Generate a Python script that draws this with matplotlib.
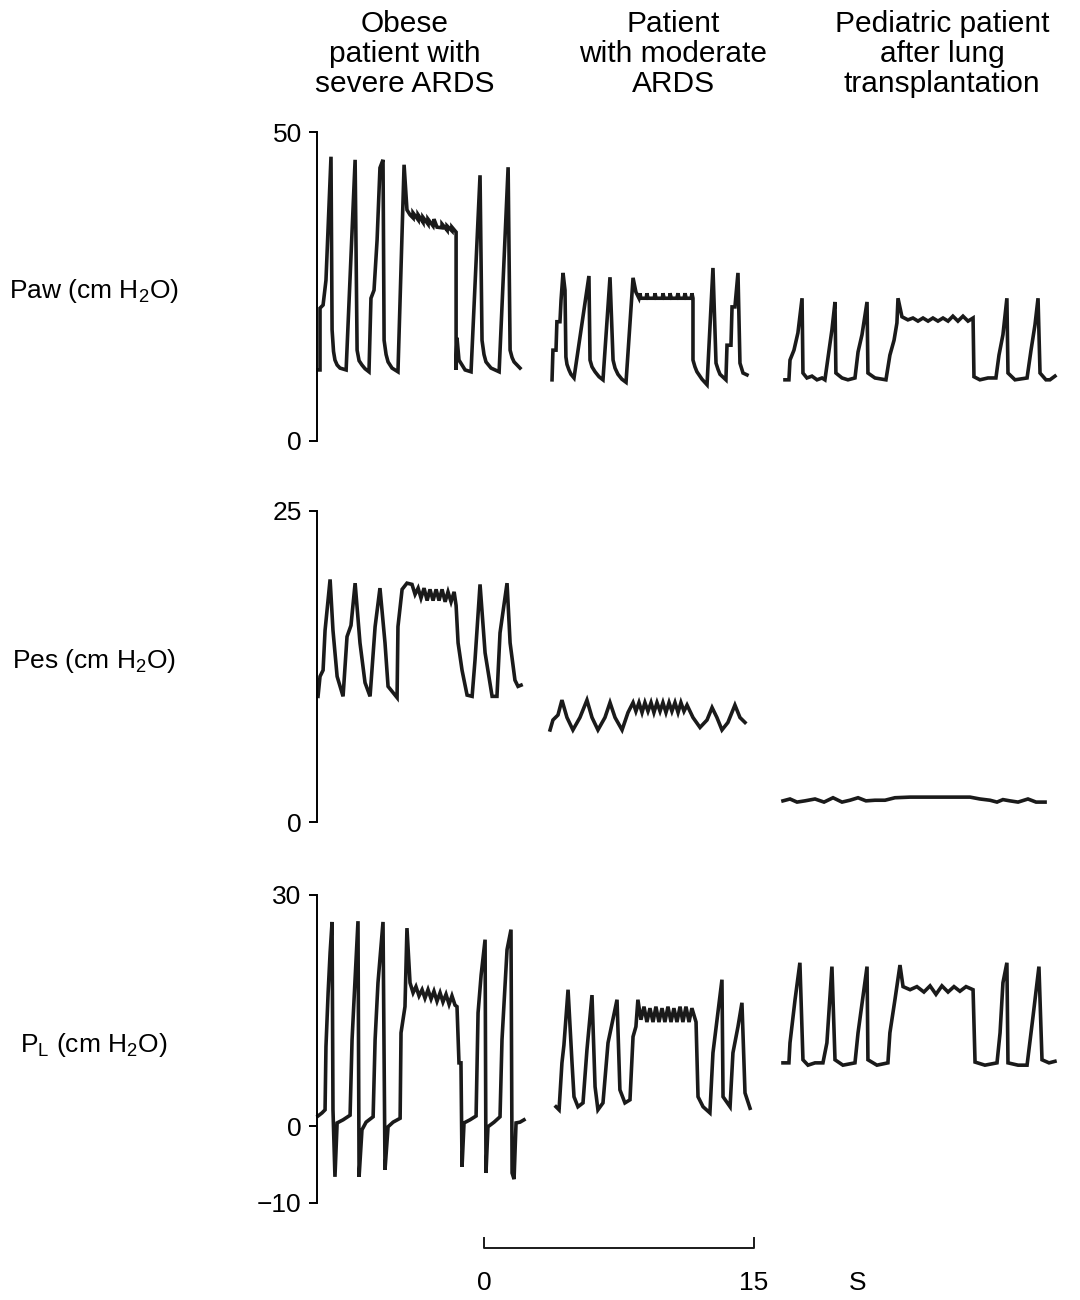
"""Airway, esophageal and transpulmonary pressure traces for three patients."""

import matplotlib

matplotlib.use("Agg")
import matplotlib.pyplot as plt

plt.rcParams["font.family"] = ["Liberation Sans", "DejaVu Sans"]
plt.rcParams["mathtext.fontset"] = "custom"
plt.rcParams["mathtext.rm"] = "Liberation Sans"
plt.rcParams["mathtext.it"] = "Liberation Sans:italic"

# Column titles (one list of lines per patient)
titles = [
    ["Obese", "patient with", "severe ARDS"],
    ["Patient", "with moderate", "ARDS"],
    ["Pediatric patient", "after lung", "transplantation"],
]
row_labels = ["Paw (cm H$_2$O)", "Pes (cm H$_2$O)", "P$_\\mathrm{L}$ (cm H$_2$O)"]
row_limits = [(0, 50), (0, 25), (-10, 30)]
row_ticks = [[0, 50], [0, 25], [-10, 0, 30]]
row_ticklabels = [["0", "50"], ["0", "25"], ["\u221210", "0", "30"]]

# Recording start of each patient, seconds on the common time scale
start_times = [-9.22, 3.61, 16.61]

# ---- Paw -------------------------------------------------------------
paw1_t = [0.0, 0.11, 0.11, 0.28, 0.44, 0.72, 0.78, 0.86, 0.94, 1.06, 1.22, 1.56,
          2.06, 2.17, 2.28, 2.44, 2.61, 2.83, 2.94, 3.11, 3.28, 3.44, 3.61, 3.67,
          3.78, 3.89, 4.11, 4.44, 4.78, 4.94,
          5.11, 5.28, 5.28, 5.56, 5.56, 5.83, 5.83, 6.11, 6.11, 6.39, 6.44, 6.61,
          6.89, 6.89, 7.17, 7.17, 7.44, 7.44, 7.67,
          7.67, 7.72, 7.83, 8.17, 8.5, 9.0, 9.11, 9.22, 9.33, 9.61, 10.06, 10.56,
          10.67, 10.78, 10.89, 11.22]
paw1_v = [11.5, 11.5, 21.5, 22.0, 26.0, 46.0, 18.0, 14.5, 13.1, 12.3, 11.8, 11.5,
          45.5, 14.7, 13.0, 12.3, 11.7, 11.2, 23.1, 24.4, 32.5, 44.2, 45.5, 16.3,
          14.0, 12.8, 11.8, 11.2, 44.7, 37.4,
          36.6, 36.1, 36.9, 35.8, 36.6, 35.4, 36.2, 35.1, 35.9, 34.8, 35.9, 34.6,
          34.5, 35.1, 34.1, 34.8, 34.0, 34.6, 33.8,
          11.5, 16.7, 13.1, 11.5, 11.2, 43.0, 16.3, 14.0, 12.8, 11.8, 11.2, 44.3,
          14.7, 13.5, 12.8, 11.8]

paw2_t = [0.17, 0.22, 0.39, 0.44, 0.61, 0.67, 0.78, 0.89, 0.94, 1.0, 1.11, 1.22,
          1.39, 2.22, 2.28, 2.39, 2.56, 2.78, 3.0, 3.39, 3.56, 3.67, 3.83, 4.05,
          4.28, 4.67, 4.83,
          5.0, 5.06, 5.1, 5.4, 5.44, 5.5, 5.85, 5.89, 5.95, 6.3, 6.33, 6.4, 6.7,
          6.72, 6.8, 7.1, 7.17, 7.22, 7.5, 7.56, 7.62, 7.9, 7.94, 8.0,
          8.0, 8.11, 8.22, 8.5, 8.78, 9.11, 9.28, 9.39, 9.5, 9.83, 9.89, 10.11,
          10.17, 10.33, 10.5, 10.61, 10.78, 11.0]
paw2_v = [9.9, 14.7, 14.7, 19.3, 19.3, 22.8, 27.2, 24.4, 13.6, 12.4, 11.5, 10.8,
          10.2, 26.7, 13.1, 12.0, 11.2, 10.4, 9.9, 26.5, 13.1, 11.8, 10.8, 10.0,
          9.5, 26.4, 24.1,
          23.1, 23.9, 23.1, 23.1, 23.9, 23.1, 23.1, 23.9, 23.1, 23.1, 23.9, 23.1,
          23.1, 23.9, 23.1, 23.1, 23.9, 23.1, 23.1, 23.9, 23.1, 23.1, 23.9, 23.1,
          13.1, 12.0, 11.2, 10.0, 9.1, 28.0, 12.6, 11.6, 10.8, 9.9, 15.5, 15.5,
          21.7, 21.7, 27.2, 12.6, 11.0, 10.7]

paw3_t = [0.11, 0.33, 0.39, 0.61, 0.83, 1.06, 1.11, 1.33, 1.61, 1.89, 2.17, 2.33,
          2.56, 2.72, 2.89, 2.94, 3.28, 3.61, 4.0, 4.17, 4.39, 4.67, 4.72, 5.11,
          5.72, 5.94, 6.17, 6.33, 6.39, 6.61, 6.94, 7.22, 7.5, 7.78, 8.06, 8.33,
          8.61, 8.89, 9.17, 9.44, 9.72, 10.0, 10.28, 10.56, 10.61, 10.94, 11.39,
          11.83, 12.0, 12.22, 12.44, 12.5, 12.89, 13.56, 13.78, 14.0, 14.17, 14.28,
          14.61, 14.83, 15.11]
paw3_v = [9.9, 9.9, 13.1, 14.7, 17.5, 23.1, 11.0, 10.2, 10.5, 9.9, 10.2, 9.9,
          14.7, 18.0, 22.5, 11.0, 10.2, 9.9, 10.2, 14.4, 17.2, 22.5, 11.0, 10.2,
          9.9, 13.9, 16.3, 19.1, 23.1, 20.1, 19.6, 19.9, 19.4, 19.9, 19.4, 19.9,
          19.4, 19.9, 19.4, 20.2, 19.4, 20.2, 19.4, 19.9, 10.4, 9.9, 10.2, 10.2,
          13.9, 17.2, 23.1, 11.0, 9.9, 10.2, 14.7, 18.8, 23.1, 11.0, 9.9, 9.9, 10.5]

# ---- Pes -------------------------------------------------------------
pes1_t = [0.0, 0.11, 0.28, 0.39, 0.67, 0.83, 1.06, 1.39, 1.61, 1.83, 2.06, 2.33,
          2.61, 2.89, 3.17, 3.44, 3.72, 3.89, 4.39, 4.44, 4.67, 4.94, 5.22, 5.39,
          5.56, 5.72, 5.89, 6.06, 6.22, 6.39, 6.56, 6.72, 6.89, 7.06, 7.22, 7.39,
          7.56, 7.67, 7.78, 8.0, 8.28, 8.56, 8.72, 9.0, 9.28, 9.67, 9.94, 10.11,
          10.5, 10.67, 10.94, 11.11, 11.28]
pes1_v = [10.1, 11.7, 12.2, 15.4, 19.5, 15.4, 11.7, 10.1, 14.9, 15.8, 19.2, 14.4,
          11.2, 10.1, 15.7, 18.8, 14.4, 10.9, 10.0, 15.7, 18.7, 19.2, 19.1, 18.3,
          18.8, 18.0, 18.8, 17.8, 18.7, 17.8, 18.7, 17.8, 18.7, 17.7, 18.5, 17.7,
          18.5, 17.4, 14.4, 12.2, 10.2, 10.1, 13.0, 19.1, 13.6, 10.1, 10.1, 15.2,
          19.2, 14.4, 11.4, 10.9, 11.0]

pes2_t = [0.06, 0.22, 0.5, 0.72, 1.0, 1.33, 1.72, 2.11, 2.39, 2.72, 3.11, 3.39,
          3.67, 4.06, 4.39, 4.67, 4.83, 5.0, 5.17, 5.33, 5.5, 5.67, 5.83, 6.0,
          6.17, 6.33, 6.5, 6.67, 6.83, 7.0, 7.17, 7.33, 7.5, 7.67, 8.0, 8.39, 8.78,
          9.06, 9.33, 9.61, 9.94, 10.33, 10.61, 10.89]
pes2_v = [7.4, 8.2, 8.6, 9.8, 8.4, 7.4, 8.4, 9.8, 8.4, 7.4, 8.4, 9.6, 8.4, 7.4,
          8.8, 9.6, 8.9, 9.6, 8.8, 9.6, 8.9, 9.6, 8.8, 9.6, 8.9, 9.6, 8.8, 9.6,
          8.9, 9.6, 8.8, 9.6, 8.9, 9.4, 8.4, 7.6, 8.2, 9.2, 8.4, 7.4, 8.0, 9.4,
          8.4, 8.0]

pes3_t = [0.0, 0.39, 0.78, 1.22, 1.78, 2.28, 2.78, 3.28, 3.72, 4.17, 4.61, 5.11,
          5.67, 6.22, 7.06, 8.17, 9.28, 10.39, 10.94, 11.5, 11.89, 12.22, 12.61,
          13.06, 13.61, 14.06, 14.56]
pes3_v = [1.7, 1.85, 1.6, 1.7, 1.85, 1.6, 1.95, 1.6, 1.75, 1.95, 1.7, 1.75, 1.75,
          1.95, 2.0, 2.0, 2.0, 2.0, 1.85, 1.75, 1.6, 1.8, 1.7, 1.6, 1.85, 1.6, 1.6]

# ---- PL --------------------------------------------------------------
pl1_t = [0.0, 0.22, 0.39, 0.44, 0.56, 0.67, 0.78, 0.83, 0.94, 1.06, 1.39, 1.78,
         1.89, 2.0, 2.22, 2.28, 2.44, 2.67, 3.06, 3.17, 3.33, 3.61, 3.72, 3.89,
         4.17, 4.56, 4.61, 4.83, 4.94, 5.11, 5.28, 5.44, 5.61, 5.78, 5.94, 6.11,
         6.28, 6.44, 6.61, 6.78, 6.94, 7.11, 7.28, 7.44, 7.61, 7.72, 7.83, 7.94,
         8.0, 8.11, 8.44, 8.78, 8.89, 9.06, 9.28, 9.33, 9.44, 9.78, 10.11, 10.22,
         10.5, 10.72, 10.78, 10.89, 11.0, 11.22, 11.44]
pl1_v = [1.3, 1.7, 2.1, 10.3, 17.3, 22.5, 26.5, 2.1, -6.6, 0.4, 0.8, 1.4, 11.2,
         16.4, 26.6, -6.6, -0.5, 0.5, 1.2, 11.2, 18.6, 26.5, -5.7, -0.1, 0.5, 1.0,
         12.1, 15.5, 25.7, 18.6, 17.3, 18.1, 16.9, 17.7, 16.6, 17.7, 16.5, 17.5,
         16.2, 17.3, 16.1, 17.1, 15.8, 16.9, 15.7, 15.5, 8.2, 8.2, -5.3, 0.4, 0.8,
         1.3, 14.7, 19.6, 24.2, -6.1, -0.1, 0.5, 1.2, 11.2, 22.9, 25.5, -6.1, -6.9,
         0.4, 0.5, 0.8]

pl2_t = [0.39, 0.56, 0.72, 0.83, 1.06, 1.28, 1.39, 1.61, 1.89, 2.11, 2.39, 2.56,
         2.72, 3.0, 3.28, 3.78, 3.94, 4.22, 4.5, 4.67, 4.83, 4.94, 5.11, 5.28,
         5.44, 5.61, 5.78, 5.94, 6.11, 6.28, 6.44, 6.61, 6.78, 6.94, 7.11, 7.28,
         7.44, 7.61, 7.78, 7.94, 8.17, 8.28, 8.56, 8.94, 9.11, 9.61, 9.67, 10.06,
         10.22, 10.5, 10.72, 10.89, 11.17]
pl2_v = [2.5, 2.1, 8.2, 10.5, 17.7, 8.2, 3.8, 2.5, 3.0, 9.9, 17.0, 5.1, 2.1, 3.0,
         10.8, 16.4, 4.7, 3.0, 3.4, 11.6, 12.9, 16.4, 13.8, 15.5, 13.5, 15.3, 13.5,
         15.5, 13.5, 15.3, 13.5, 15.5, 13.5, 15.3, 13.5, 15.5, 13.5, 15.5, 13.5,
         15.3, 13.5, 3.8, 2.5, 1.7, 9.5, 19.0, 3.8, 2.5, 9.5, 12.9, 16.0, 4.3, 2.3]

pl3_t = [0.0, 0.33, 0.39, 0.67, 0.94, 1.11, 1.39, 1.78, 2.22, 2.44, 2.72, 2.89,
         3.33, 4.0, 4.17, 4.67, 4.72, 5.22, 5.83, 5.94, 6.22, 6.5, 6.67, 7.06,
         7.44, 7.83, 8.17, 8.5, 8.83, 9.17, 9.5, 9.83, 10.17, 10.56, 10.67, 11.22,
         11.89, 12.06, 12.22, 12.44, 12.5, 13.06, 13.56, 13.89, 14.22, 14.39,
         14.78, 15.11]
pl3_v = [8.2, 8.2, 10.8, 16.4, 21.2, 8.6, 7.9, 8.2, 8.2, 10.8, 20.7, 8.6, 7.9,
         8.2, 12.1, 20.7, 8.6, 7.9, 8.2, 12.1, 16.4, 20.9, 18.1, 17.7, 18.1, 17.4,
         18.2, 17.1, 18.2, 17.4, 18.1, 17.5, 18.1, 17.7, 8.3, 7.9, 8.2, 12.1, 18.6,
         21.2, 8.2, 7.9, 7.9, 14.2, 20.7, 8.6, 8.2, 8.4]

traces = [
    [(paw1_t, paw1_v), (paw2_t, paw2_v), (paw3_t, paw3_v)],
    [(pes1_t, pes1_v), (pes2_t, pes2_v), (pes3_t, pes3_v)],
    [(pl1_t, pl1_v), (pl2_t, pl2_v), (pl3_t, pl3_v)],
]

# Time scale bar
scale_ticks = [0, 15]
scale_unit = "S"

W, H = 1080, 1300
fig = plt.figure(figsize=(W / 100, H / 100), dpi=100)


def px_axes(x0, y_top, x1, y_bottom):
    """Add axes from pixel edges (origin at top left)."""
    return fig.add_axes([x0 / W, 1 - y_bottom / H, (x1 - x0) / W, (y_bottom - y_top) / H])


# x mapping: 0 s at px 484, 15 s at px 754
px_per_s = 18.0
x_left, x_right = 317, 1060
xlim = ((x_left - 484) / px_per_s, (x_right - 484) / px_per_s)

row_pixels = [(132, 441), (511, 822), (895, 1203)]
label_centers = [291, 661, 1045]

for r in range(3):
    ax = px_axes(x_left, row_pixels[r][0], x_right, row_pixels[r][1])
    for offset, (t, v) in zip(start_times, traces[r]):
        ax.plot([offset + ti for ti in t], v, color="#1a1a1a", lw=2.6,
                solid_joinstyle="miter", clip_on=False)
    ax.set_xlim(*xlim)
    ax.set_ylim(*row_limits[r])
    for side in ["top", "right", "bottom"]:
        ax.spines[side].set_visible(False)
    ax.spines["left"].set_linewidth(1.4)
    ax.set_xticks([])
    ax.set_yticks(row_ticks[r])
    ax.set_yticklabels(row_ticklabels[r])
    ax.tick_params(axis="y", length=6, width=1.4, pad=5, labelsize=19)
    ax.patch.set_alpha(0)
    fig.text(94 / W, 1 - label_centers[r] / H, row_labels[r], ha="center",
             va="center", fontsize=19)

# Column titles
title_centers = [405, 673, 942]
for cx, lines in zip(title_centers, titles):
    for i, line in enumerate(lines):
        fig.text(cx / W, 1 - (24 + 30 * i) / H, line, ha="center", va="center",
                 fontsize=21.5)

# Scale bar
sax = px_axes(x_left, 1228, x_right, 1258)
sax.set_xlim(*xlim)
sax.set_ylim(0, 30)
sax.plot([scale_ticks[0], scale_ticks[0], scale_ticks[1], scale_ticks[1]],
         [20, 10, 10, 20], color="#1a1a1a", lw=1.4)
sax.axis("off")
for tk in scale_ticks:
    fig.text((484 + tk * px_per_s) / W, 1 - 1283 / H, str(tk), ha="center",
             va="center", fontsize=19)
fig.text(858 / W, 1 - 1283 / H, scale_unit, ha="center", va="center", fontsize=19)

fig.savefig("out.png", dpi=100)
